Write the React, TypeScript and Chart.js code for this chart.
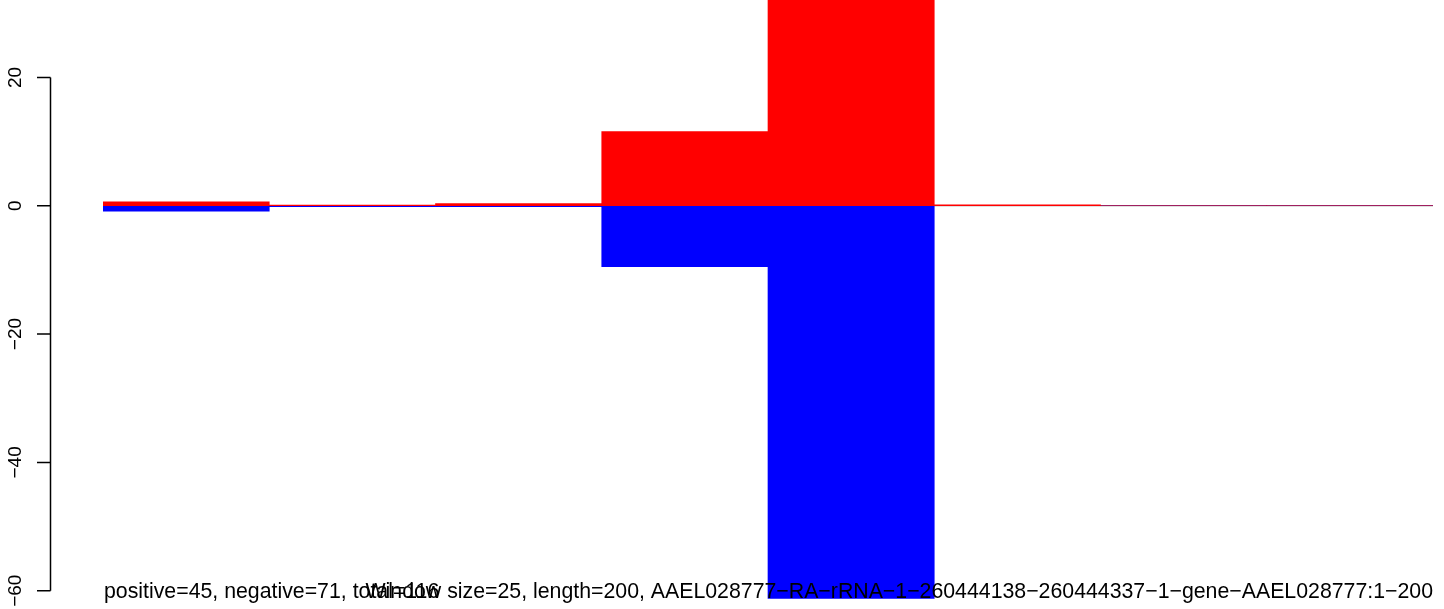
import React, { useEffect, useRef } from "react";
import { Chart, registerables } from "chart.js";

Chart.register(...registerables);

const windows = ["1-25", "26-50", "51-75", "76-100", "101-125", "126-150", "151-175", "176-200"];
const positiveValues = [0.6, 0.1, 0.35, 11.56, 32.3, 0.15, 0, 0];
const negativeValues = [-0.85, -0.15, -0.15, -9.48, -61.2, 0, 0, 0];
const yTicks = [-60, -40, -20, 0, 20];
const yTickLabels = ["\u221260", "\u221240", "\u221220", "0", "20"];
const leftText = "positive=45, negative=71, total=116";
const rightText =
  "Window size=25, length=200, AAEL028777\u2212RA\u2212rRNA\u22121\u2212260444138\u2212260444337\u22121\u2212gene\u2212AAEL028777:1\u2212200";

const TICK_FONT = '19px "Liberation Sans", Arial, Helvetica, sans-serif';
const TEXT_FONT = '21.3px "Liberation Sans", Arial, Helvetica, sans-serif';

const overlayPlugin = {
  id: "rOverlay",
  beforeDatasetsDraw(chart: any) {
    const { ctx, chartArea, scales } = chart;
    const y0 = scales.y.getPixelForValue(0);
    ctx.save();
    ctx.strokeStyle = "#808080";
    ctx.lineWidth = 1.3;
    ctx.beginPath();
    ctx.moveTo(chartArea.left, y0);
    ctx.lineTo(chartArea.right, y0);
    ctx.stroke();
    ctx.restore();
  },
  afterDatasetsDraw(chart: any) {
    const { ctx, chartArea, scales } = chart;
    const ys = scales.y;
    ctx.save();
    const axisX = 50.5;
    ctx.strokeStyle = "#000";
    ctx.lineWidth = 1.5;
    ctx.beginPath();
    ctx.moveTo(axisX, ys.getPixelForValue(yTicks[0]));
    ctx.lineTo(axisX, ys.getPixelForValue(yTicks[yTicks.length - 1]));
    yTicks.forEach((t) => {
      const py = ys.getPixelForValue(t);
      ctx.moveTo(axisX, py);
      ctx.lineTo(37, py);
    });
    ctx.stroke();
    ctx.fillStyle = "#000";
    ctx.font = TICK_FONT;
    ctx.textAlign = "center";
    ctx.textBaseline = "alphabetic";
    yTicks.forEach((t, i) => {
      const py = ys.getPixelForValue(t);
      ctx.save();
      ctx.translate(21, py);
      ctx.rotate(-Math.PI / 2);
      ctx.fillText(yTickLabels[i], 0, 0);
      ctx.restore();
    });
    ctx.font = TEXT_FONT;
    ctx.textAlign = "left";
    ctx.fillText(leftText, chartArea.left + 1, 598);
    ctx.textAlign = "right";
    ctx.fillText(rightText, chartArea.right, 598);
    ctx.restore();
  },
};

export default function App() {
  const ref = useRef<HTMLCanvasElement | null>(null);
  useEffect(() => {
    if (!ref.current) return;
    const chart = new Chart(ref.current, {
      type: "bar",
      data: {
        labels: windows,
        datasets: [
          {
            label: "positive",
            data: positiveValues,
            backgroundColor: "#ff0000",
            borderWidth: 0,
            barPercentage: 1,
            categoryPercentage: 1,
          },
          {
            label: "negative",
            data: negativeValues,
            backgroundColor: "#0000ff",
            borderWidth: 0,
            barPercentage: 1,
            categoryPercentage: 1,
          },
        ],
      },
      options: {
        animation: false,
        responsive: false,
        maintainAspectRatio: false,
        layout: { padding: { left: 103, right: 11, top: 0, bottom: 0 } },
        plugins: { legend: { display: false }, tooltip: { enabled: false } },
        scales: {
          x: { stacked: true, display: false, offset: true },
          y: { stacked: false, display: false, min: -62.85, max: 32.06 },
        },
      },
      plugins: [overlayPlugin],
    });
    return () => chart.destroy();
  }, []);
  return (
    <div style={{ position: "fixed", left: 0, top: 0, width: 1444, height: 609, background: "#fff" }}>
      <canvas ref={ref} width={1444} height={609} style={{ display: "block" }} />
    </div>
  );
}
